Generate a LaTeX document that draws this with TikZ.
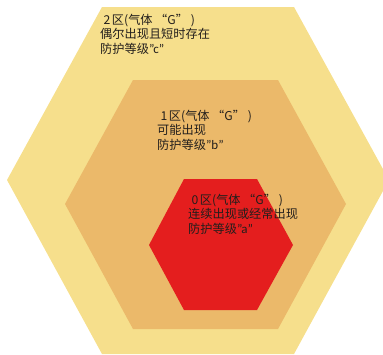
\documentclass[tikz,border=0pt]{standalone}
\usepackage{fontspec}
\newfontfamily\cjk{Noto Sans CJK SC}
\newfontfamily\lat{Carlito}
\definecolor{zonetwo}{RGB}{246,223,140}
\definecolor{zoneone}{RGB}{235,185,106}
\definecolor{zonezero}{RGB}{228,30,30}
\definecolor{txt}{RGB}{34,30,28}
\newcommand{\zonehead}[1]{\hspace{3.5pt}#1\hspace{1.5pt}区(气体\hspace{2.5pt}“G”\hspace{3pt})}
\begin{document}
\begin{tikzpicture}[x=1pt,y=-1pt,
  lbl/.style={anchor=base west,inner sep=0pt,align=left,text=txt,
    font=\cjk\fontsize{12.2}{14.7}\selectfont}]
\useasboundingbox (0,0) rectangle (383,354);
\fill[zonetwo] (102,7) -- (294,7) -- (389,180) -- (294,354) -- (102,354) -- (7,180) -- cycle;
\fill[zoneone] (133,80) -- (278,80) -- (346,204) -- (278,329) -- (133,329) -- (65,204) -- cycle;
\fill[zonezero] (184,179) -- (257,179) -- (293,245) -- (257,310) -- (184,310) -- (149,245) -- cycle;
\node[lbl] (z2) at (100,53.4) {\zonehead{2}\\偶尔出现且短时存在\\防护等级{\lat\fontsize{13}{14.7}\selectfont ”c”}};
\node[lbl] (z1) at (157,149.6) {\zonehead{1}\\可能出现\\防护等级{\lat\fontsize{13}{14.7}\selectfont ”b”}};
\node[lbl] (z0) at (188,233.4) {\zonehead{0}\\连续出现或经常出现\\防护等级{\lat\fontsize{13}{14.7}\selectfont ”a”}};
\end{tikzpicture}
\end{document}
